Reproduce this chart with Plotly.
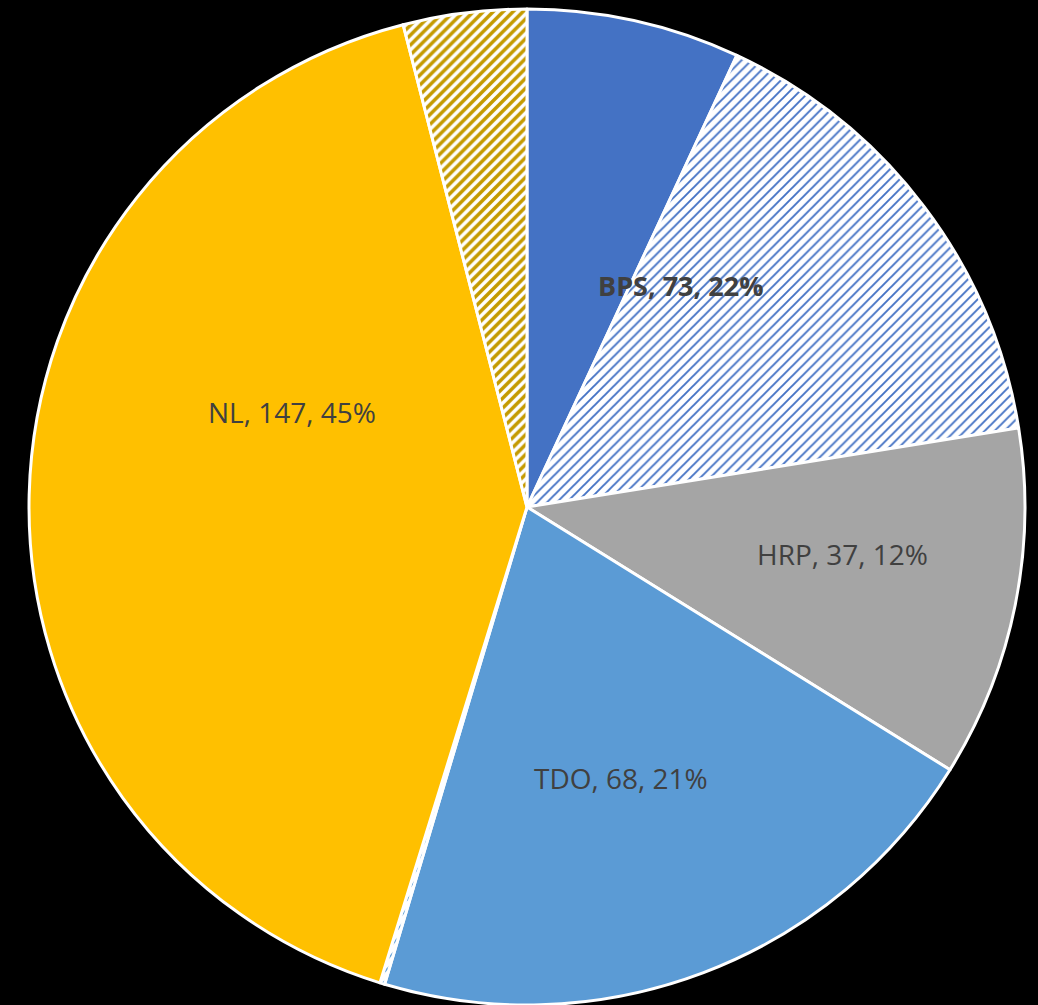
import plotly.graph_objects as go

# Drawn slices (clockwise from 12 o'clock)
slice_names = ["BPS", "BPS (hatched)", "HRP", "TDO", "TDO (hatched)", "NL", "NL (hatched)"]
slice_values = [22.5, 50.5, 37, 67.5, 0.5, 134, 13]
slice_colors = ["#4472C4", "#4472C4", "#A5A5A5", "#5B9BD5", "#5B9BD5", "#FFC000", "#C49A00"]
slice_hatched = [False, True, False, False, True, False, True]

# Category labels as shown on the chart
cat_names = ["BPS", "HRP", "TDO", "NL"]
cat_values = [73, 37, 68, 147]
cat_pct = [22, 12, 21, 45]
cat_bold = [True, False, False, False]

shapes = ["/" if h else "" for h in slice_hatched]
bgcols = ["white" if h else c for h, c in zip(slice_hatched, slice_colors)]
sizes = [7 if h else 8 for h in slice_hatched]
solid = [0.5 if c == "#C49A00" else (0.27 if h else 0.3)
         for h, c in zip(slice_hatched, slice_colors)]

fig = go.Figure()
fig.add_trace(go.Pie(
    labels=slice_names,
    values=slice_values,
    sort=False,
    direction="clockwise",
    rotation=0,
    textinfo="none",
    hoverinfo="label+value",
    marker=dict(
        colors=slice_colors,
        line=dict(color="white", width=3),
        pattern=dict(shape=shapes, fgcolor=slice_colors, bgcolor=bgcols,
                     size=sizes, solidity=solid, fillmode="replace"),
    ),
    domain=dict(x=[0.0279, 0.9875], y=[0.0, 0.991]),
    showlegend=False,
))

label_pos = [(0.6555, 0.7155), (0.812, 0.449), (0.598, 0.226), (0.281, 0.590)]
for name, val, pct, bold, (lx, ly) in zip(cat_names, cat_values, cat_pct, cat_bold, label_pos):
    txt = f"{name}, {val}, {pct}%"
    size = 27 if bold else 28
    if bold:
        txt = f"<b>{txt}</b>"
    fig.add_annotation(x=lx, y=ly, xref="paper", yref="paper", text=txt, showarrow=False,
                       xanchor="center", yanchor="middle",
                       font=dict(family="Open Sans", size=size, color="#404040"))

fig.update_layout(
    width=1038, height=1005,
    margin=dict(l=0, r=0, t=0, b=0),
    paper_bgcolor="black",
    plot_bgcolor="black",
)

fig.write_html(
    "out.html",
    config={"displayModeBar": False},
    post_script="document.body.style.margin='0';document.body.style.background='black';"
                "document.body.style.overflow='hidden';",
)
